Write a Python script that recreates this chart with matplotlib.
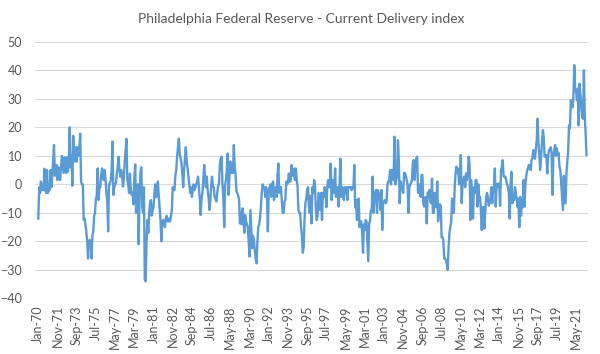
import numpy as np
import pandas as pd
import matplotlib
matplotlib.use('Agg')
import matplotlib.pyplot as plt

plt.rcParams['font.family'] = ['Lato', 'DejaVu Sans']

# Monthly values, one row per year, starting Jan 1970
y1970s = [
    -12, -1, -3, 1, -2, 0, -2, 5.5, -2, -3, 5, -3,
    -2, -2, 5, -1, 3, 8, 13.8, 3, 4, 6.8, 1.5, 6,
    4, 1.5, 6, 10, 7, 4, 9.5, 5, 4, 9.5, 4.5, 8,
    20, 6, 10, -0.5, 17, 9, 8, 13, 8, 13, 10, 11,
    17.8, 1, 0, 0, -12.5, -12, -14, -16.5, -20, -26, -20, -19.5,
    -20, -26, -18, -16.5, -11, -10, -5, -4, 5.6, -5.5, -1, -1,
    3, 5.6, 4, 1.5, 5, 2, -3, -6, -16.5, 0, 0, 1.5,
    5, 15, -3.7, -1, 0, 0.5, 4, 6, 9.7, 5, 2.7, 5,
    3, -0.8, 2, 8, 12, 16, 1.5, 0, -3, 3.8, -2, -3.7,
    -3, -7, 2, 7, -10, -4, 0, -21, -3, 4, 6, -8,
]
y1980s = [
    -10, -1, -33.5, -34, -20, -12.5, -17, -10, -6.6, -5.5, -11, -9,
    -8, -3, 0, -4.5, -2, 1, -4, -8, -12.5, -20, -13, -12.5,
    -13, -15, -12, -11, -13, -13, -12, -13, -11, -9, -1, -2,
    -2, 3, 5, 9.7, 13, 16, 10.8, 9, 7.3, 3.8, -1, 5,
    9, 13, 8, 5.6, 2.7, 0, -3, -1, -4.4, -2, 0, -2,
    -1, 0, 1, 2.7, -1, -5, -10.7, -5, -3, 1.5, 6.8, 3,
    -1, 2.7, -2, -4.4, -9, -6, -0.5, 2.7, -0.8, -1, -4.4, -5,
    -6, -3, -0.5, 0.3, 7, 9, 9.7, 0, -5, -15, 0, 1.5,
    5, 10.8, -3.7, 3, 8, 4, 7.3, 4, 13.8, 6, 3.3, -2.6,
    -3, -4, -5.5, -13.7, -10, -14, -8.4, -12, -17, -10.8, -13, -14,
]
y1990s = [
    -15, -20, -25.3, -9, -16, -22.4, -18, -19.5, -23, -26, -27.7, -20,
    -15, -14, -12, -7.8, -3, 0, -1, -1, -4.4, -1, -5, -16.5,
    -2, -1, 0, -4.4, 0, 1, -5.5, -2, -1, -4.4, 3, 7.3,
    -3, -2, -1, -6, -10, -10, -6, -5.5, 1, 0, 0.5, 3.8,
    1, 1, 6.8, 4, 3, 5.5, 1.5, 5.6, 2, -1, -9, -10,
    -10, -15, -18, -24, -22, -12, -6.6, -5, -2, -1, -7.8, -10,
    -4, -13.7, -1, -3, 1.5, -1, -9, -12.5, -11, -3, -6, -9,
    -3, -12.5, -3, -4.4, -1, -2, -8, -1, 1.5, -1, -1, 7.3,
    -5.5, -1.5, 1.5, -3, 5.6, -4.4, -1, -1, -7.8, -1, 9, -4.4,
    -1, -3, -5.5, -1, -3, -1, -5.5, -1, -1, -1, -1, -2,
]
y2000s = [
    -1, -1, 6.8, -8, -5.5, -12.5, -5.5, -5, -15, -13, -13, -17,
    -24, -14, -16, -12.5, -13, -20, -27, -13.5, -13, -9, -9, 2.7,
    -10, -5, -3, -2, -10, -2, -3, -4, -9, -2, -16, -6.6,
    -6, -5.5, -6.6, -6, 0, 1, 1.5, 5, 0, 5, 3, 1.5,
    16.7, 0, 1.5, 3, 15.5, 8, -6.6, 1, -1, -1, -3, 4,
    4, 3, 1.5, 0, -10, -1, 0, 0.5, 1.5, 7.3, 8.5, 1.5,
    6, 9, 9.7, -3, -1, 0, -4.4, 3.3, 3.3, -6.6, -7.8, -5,
    -4.4, -13.7, -3, -3, -2, -6, -6.6, 2, -10, -10, -3, -4.4,
    -8, 1, -13, -8, -7, -7.5, -18.5, -18.5, -19.5, -26, -26, -26.5,
    -28, -30, -22, -17, -15, -13, -5, -5.5, -10, -1, 4, 6.2,
]
y2010s = [
    4, 5.5, 0, 0.5, 10.3, -6.6, 0, 1.5, 2.7, -1, 3.8, 1.5,
    3, 9.7, 7.3, -12.5, 1.5, -5, -12, -1, -3, 1.5, 1.5, -7.8,
    0, -5.5, -4.4, -9, -16, -8, -8, -15.5, -10, -4.4, -3, -4.4,
    -7.5, -6.6, -5, -1, -6.6, -2, -1, 5.6, -7.8, 0, -1, 0.3,
    0, -7.5, 5, 6, 8.5, 3, 2.5, 2.7, 1.5, 0, -1, -3,
    -12, 0, 4.4, -6.6, -4.4, -5.5, -1, -3, -5, -8, -5, -15,
    -4.4, -11, -5.5, -8, 1.5, -7.8, 0, 3, 5, 5.6, 6.8, 5.5,
    5, 8.5, 9, 12, 11, 9, 12.6, 15.5, 23, 14.3, 9.7, 5,
    10, 15, 19, 16.5, 9.7, 9.7, 10.3, 3.8, 9.7, 12, 12, 13,
    11, -3.7, 10, 12, 13.8, 10, 12.6, 10.5, 11, 6.2, 5, 0.3,
]
y2020s = [
    -4, -9, 3, -6.6, -6.6, 3.8, 8, 12, 20.7, 19.6, 29.5, 28.3,
    27, 30.7, 41.8, 33, 33, 29.5, 33.6, 20.7, 35.3, 31.8, 28, 23.5,
    23, 40, 23.6, 17.8, 10.3,
]

values = np.array(y1970s + y1980s + y1990s + y2000s + y2010s + y2020s)
dates = pd.date_range('1970-01-01', periods=len(values), freq='MS')
labels = dates.strftime('%b-%y')
tick_step = 22

fig = plt.figure(figsize=(6, 3.54), dpi=100)
ax = fig.add_axes([0.058, 0.157, 0.922, 0.725])

x = np.arange(len(values))
ax.plot(x, values, color='#5B9BD5', linewidth=1.7)

ax.set_ylim(-40, 50)
ax.set_yticks(range(-40, 51, 10))
ax.set_xlim(-4, len(values) + 0.7)
ticks = x[::tick_step]
ax.set_xticks(ticks)
ax.set_xticklabels(labels[::tick_step], rotation=90)

ax.grid(axis='y', color='#D9D9D9', linewidth=0.8)
ax.set_axisbelow(True)
for s in ax.spines.values():
    s.set_visible(False)
ax.tick_params(length=0, colors='#595959', labelsize=9)
ax.tick_params(axis='y', pad=9)
ax.tick_params(axis='x', pad=5)

fig.text(0.502, 0.945, 'Philadelphia Federal Reserve - Current Delivery index',
         ha='center', va='center', fontsize=10, color='#595959')

fig.savefig('out.png', dpi=100)
